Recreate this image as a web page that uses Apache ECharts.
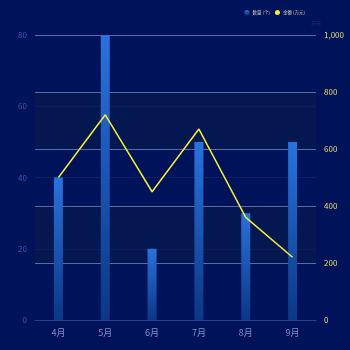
<!DOCTYPE html>
<html lang="zh">
<head>
  <meta charset="UTF-8">
  <title>数量与金额</title>
  <script src="https://cdn.jsdelivr.net/npm/echarts@6/dist/echarts.min.js"></script>
  <style>
    html, body { margin: 0; padding: 0; background: #00125a; }
  </style>
</head>
<body>
<div id="main" style="width: 350px;height:350px;"></div>
<script>
  var months = ['4月', '5月', '6月', '7月', '8月', '9月'];
  var countData = [40, 80, 20, 50, 30, 50];        // 数量 (个)
  var amountData = [500, 720, 450, 670, 360, 220]; // 金额 (万元)

  var myChart = echarts.init(document.getElementById('main'));
  myChart.setOption({
    backgroundColor: '#00125a',
    textStyle: { fontFamily: 'Noto Sans CJK SC' },
    legend: {
      right: 40,
      top: 5,
      itemWidth: 5,
      itemHeight: 5,
      itemGap: 5,
      icon: 'circle',
      textStyle: { color: '#d8d8b8', fontSize: 4.5, padding: [0, 0, 0, -2] },
      data: ['数量 (个)', '金额 (万元)']
    },
    grid: { left: 35, right: 34, top: 35, bottom: 30 },
    xAxis: {
      type: 'category',
      data: months,
      axisTick: { show: false },
      axisLine: { lineStyle: { color: '#2a3f8a' } },
      axisLabel: { color: '#7f8fc8', fontSize: 9, margin: 8 }
    },
    yAxis: [{
      type: 'value',
      min: 0, max: 80, interval: 20,
      axisLine: { show: false },
      axisTick: { show: false },
      axisLabel: { color: '#3a5cb5', fontSize: 8 },
      splitLine: { lineStyle: { color: '#0a2068' } }
    }, {
      type: 'value',
      name: '万元',
      nameTextStyle: { color: '#1e3276', fontSize: 5, padding: [0, 0, -6, 0] },
      min: 0, max: 1000, interval: 200,
      axisLine: { show: false },
      axisTick: { show: false },
      axisLabel: { color: '#e8df6a', fontSize: 8 },
      splitLine: { lineStyle: { color: '#5a6aa8', width: 1 } },
      splitArea: { show: true, areaStyle: { color: ['rgba(0,0,0,0)', 'rgba(10,30,70,0.45)'] } }
    }],
    series: [{
      name: '数量 (个)',
      type: 'bar',
      barWidth: 9,
      data: countData,
      itemStyle: {
        color: new echarts.graphic.LinearGradient(0, 0, 0, 1, [
          { offset: 0, color: '#2a72dc' },
          { offset: 1, color: '#0b3786' }
        ])
      }
    }, {
      name: '金额 (万元)',
      type: 'line',
      yAxisIndex: 1,
      data: amountData,
      symbol: 'none',
      lineStyle: { color: '#f2ef3a', width: 1.5 },
      itemStyle: { color: '#f2ef3a' }
    }]
  });
</script>
</body>
</html>
